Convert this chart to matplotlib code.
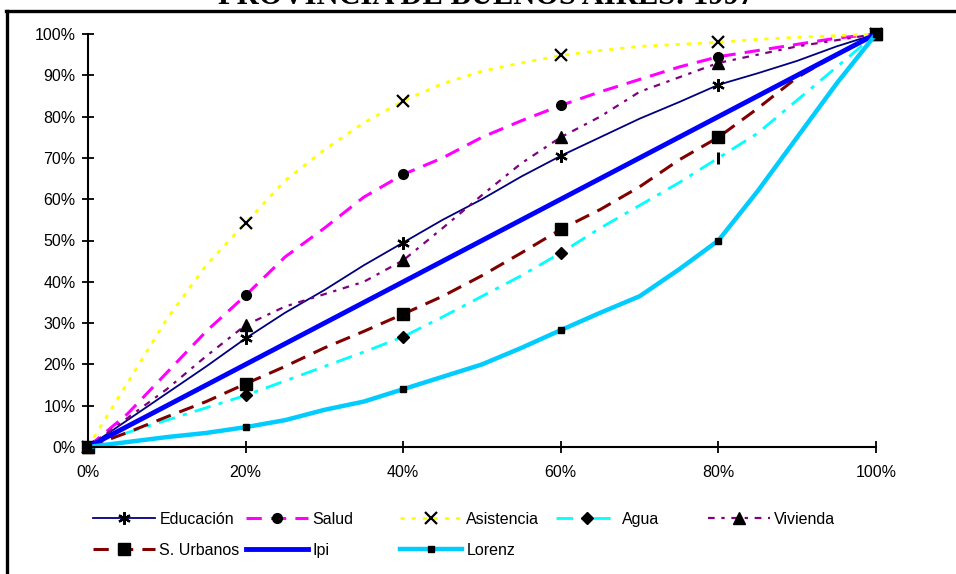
import matplotlib

matplotlib.use("Agg")
import matplotlib.pyplot as plt
from matplotlib.lines import Line2D
from matplotlib.ticker import PercentFormatter
import numpy as np

# population share (x) at 5% steps; cumulative share per item (y)
pct = list(range(0, 101, 5))
educacion = [0, 6.5, 13, 19.5, 26.3, 32.5, 38, 44, 49.5, 55, 60, 65.5,
             70.5, 75, 79.5, 83.5, 87.7, 90.5, 93.5, 97, 100]
salud = [0, 8, 18, 28, 36.7, 46, 53, 60.5, 66, 70, 75, 79, 82.7, 86, 89,
         92, 94.5, 96, 97.5, 99, 100]
asistencia = [0, 15.5, 31, 44, 54.3, 64.5, 72, 78.5, 83.8, 88, 91, 93,
              94.8, 96, 97, 97.5, 98, 98.7, 99.2, 99.6, 100]
agua = [0, 3.5, 6.5, 9.5, 12.5, 16, 19.5, 23, 26.7, 31.5, 36.5, 41.5, 47,
        53, 58.5, 64, 70, 76, 84, 92, 100]
vivienda = [0, 7, 14, 22, 29.5, 34, 37, 40, 45.2, 53, 61, 68.7, 75, 80,
            86, 89.5, 93, 95, 97, 98.5, 100]
urbanos = [0, 3.5, 7.3, 11, 15.3, 19.5, 24, 28, 32.2, 36.5, 41.5, 47,
           52.7, 57.5, 63, 69.5, 75, 82, 89.5, 95, 100]
ipi = [0, 5, 10, 15, 20, 25, 30, 35, 40, 45, 50, 55, 60, 65, 70, 75, 80,
       85, 90, 95, 100]
lorenz = [0, 1.2, 2.4, 3.4, 4.8, 6.5, 9, 11, 14, 17, 20, 24, 28.3, 32.5,
          36.5, 43, 50, 62, 75, 88, 100]

plt.rcParams["font.family"] = ["Liberation Sans", "DejaVu Sans"]

fig = plt.figure(figsize=(9.56, 5.74), dpi=100)
ax = fig.add_axes([88 / 956, 1 - 447 / 574, 788 / 956, 413 / 574])

mk = dict(markevery=4, markerfacecolor="black", markeredgecolor="black")
ax.plot(pct, educacion, color="#000080", lw=1.3, ls="-", marker=(6, 2, 0),
        ms=9, mew=1.6, label="Educación", **mk)
ax.plot(pct, salud, color="#FF00FF", lw=2.2, ls=(0, (5, 3)), marker="o",
        ms=7, label="Salud", **mk)
ax.plot(pct, asistencia, color="#FFFF00", lw=2.0, ls=(0, (1.5, 2.5)),
        marker="x", ms=8, mew=1.6, label="Asistencia", **mk)
ax.plot(pct, agua, color="#00FFFF", lw=2.0, ls=(0, (6, 3, 1.5, 3)),
        marker="D", ms=6, label="Agua",
        markevery=[0, 4, 8, 12, 20], markerfacecolor="black",
        markeredgecolor="black")
ax.plot(pct[16], agua[16], ls="none", marker="|", ms=8, mew=2.2,
        color="black")
ax.plot(pct, vivienda, color="#800080", lw=1.6, ls=(0, (3, 3, 1.5, 3)),
        marker="^", ms=8, label="Vivienda", **mk)
ax.plot(pct, urbanos, color="#800000", lw=2.2, ls=(0, (5, 3)), marker="s",
        ms=8, label="S. Urbanos", **mk)
ax.plot(pct, ipi, color="#0000FF", lw=3.5, ls="-", label="Ipi")
ax.plot(pct, lorenz, color="#00CCFF", lw=3.2, ls="-", marker="s", ms=4,
        label="Lorenz", **mk)

ax.set_xlim(0, 100)
ax.set_ylim(0, 100)
ax.set_xticks(range(0, 101, 20))
ax.set_yticks(range(0, 101, 10))
ax.xaxis.set_major_formatter(PercentFormatter(decimals=0))
ax.yaxis.set_major_formatter(PercentFormatter(decimals=0))
for side in ("top", "right"):
    ax.spines[side].set_visible(False)
for side in ("left", "bottom"):
    ax.spines[side].set_linewidth(1.5)
ax.tick_params(direction="inout", length=8, width=1.3, labelsize=11.5)
ax.tick_params(axis="y", pad=5)
ax.tick_params(axis="x", pad=9)
for line in ax.lines:
    line.set_clip_on(False)

# legend: fixed-width columns like the spreadsheet legend
handles = {h.get_label(): h for h in ax.lines}
columns = [["Educación", "S. Urbanos"], ["Salud", "Ipi"],
           ["Asistencia", "Lorenz"], ["Agua"], ["Vivienda"]]
col_x = [93, 246, 400, 556, 708]
for names, x in zip(columns, col_x):
    fig.legend([handles[n] for n in names], names, loc="upper left",
               bbox_to_anchor=(x / 956, 1 - 512 / 574), frameon=False,
               fontsize=11.5, handlelength=3.9, handletextpad=0.25,
               borderpad=0, borderaxespad=0, labelspacing=1.0,
               numpoints=1, markerscale=1.0)

# chart border and clipped title
fig.add_artist(Line2D([6 / 956, 1], [1 - 10.5 / 574] * 2, color="black",
                      lw=2.4, transform=fig.transFigure))
fig.add_artist(Line2D([7 / 956] * 2, [0, 1 - 10.5 / 574], color="black",
                      lw=2.4, transform=fig.transFigure))
fig.text(486 / 956, 1 - 3.5 / 574, "PROVINCIA DE BUENOS AIRES: 1997",
         ha="center", va="baseline", fontsize=22, fontweight="bold",
         family=["Liberation Serif", "DejaVu Serif"])

fig.savefig("out.png", dpi=100)
